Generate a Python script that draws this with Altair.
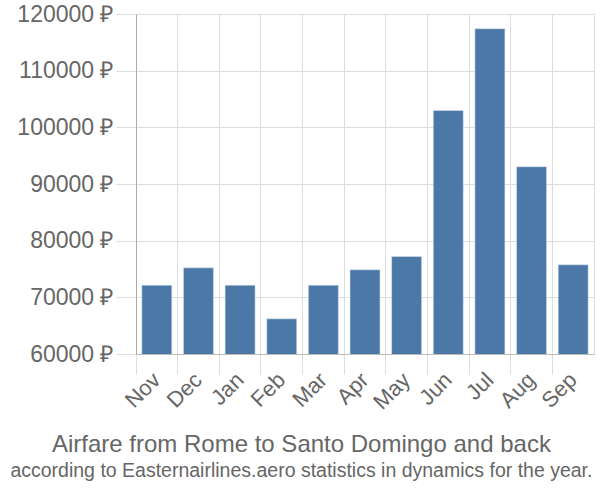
import altair as alt
import pandas as pd

months = ["Nov", "Dec", "Jan", "Feb", "Mar", "Apr", "May", "Jun", "Jul", "Aug", "Sep"]
prices = [72140, 75200, 72140, 66200, 72140, 74860, 77200, 102970, 117400, 93040, 75740]

df = pd.DataFrame({"month": months, "price": prices})

grey = "#666666"

chart = (
    alt.Chart(df)
    .mark_bar(color="#4c78a8", stroke="#dfe6ef", strokeWidth=0.5,
              width=alt.RelativeBandSize(0.72), clip=True)
    .encode(
        x=alt.X(
            "month:N",
            sort=months,
            title=None,
            scale=alt.Scale(paddingInner=0, paddingOuter=0),
            axis=alt.Axis(
                labelAngle=-45,
                labelAlign="right",
                labelBaseline="middle",
                labelFontSize=22,
                labelColor=grey,
                labelFont="Liberation Sans",
                bandPosition=0,
                grid=True,
                gridColor="#dddddd",
                tickColor="#dddddd",
                tickSize=20,
                domainColor="#bbbbbb",
                labelPadding=2,
            ),
        ),
        y=alt.Y(
            "price:Q",
            title=None,
            scale=alt.Scale(domain=[60000, 120000], nice=False, zero=False),
            axis=alt.Axis(
                values=[60000, 70000, 80000, 90000, 100000, 110000, 120000],
                labelExpr="datum.value + ' ₽'",
                labelFontSize=23,
                labelColor=grey,
                labelFont="Liberation Sans",
                gridColor="#dddddd",
                tickColor="#dddddd",
                tickSize=20,
                domainColor="#aaaaaa",
                labelPadding=3,
            ),
        ),
    )
    .properties(
        width=458,
        height=340,
        autosize=alt.AutoSizeParams(type="none"),
        padding={"left": 136, "top": 14, "right": 6, "bottom": 146},
        title=alt.TitleParams(
            text="Airfare from Rome to Santo Domingo and back",
            subtitle="according to Easternairlines.aero statistics in dynamics for the year.",
            orient="bottom",
            anchor="middle",
            frame="bounds",
            font="Liberation Sans",
            fontSize=24,
            fontWeight="normal",
            color=grey,
            subtitleFont="Liberation Sans",
            subtitleFontSize=19.5,
            subtitleColor=grey,
            offset=20,
            subtitlePadding=5,
            dx=-4,
        ),
    )
    .configure_view(stroke="#dddddd")
)

chart.save("out.html", embed_options={"renderer": "svg", "actions": False})
